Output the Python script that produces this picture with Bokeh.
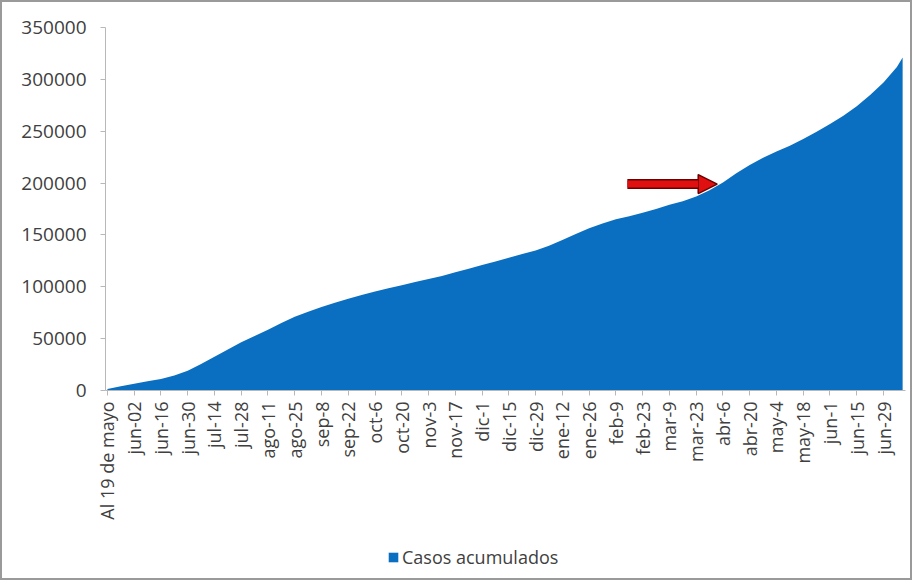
import math
from bokeh.plotting import figure
from bokeh.layouts import column
from bokeh.models import (Range1d, FixedTicker, Legend, LegendItem, Arrow, NormalHead,
                          ColumnDataSource)
from bokeh.embed import file_html
from bokeh.resources import INLINE

# ---- data ----
dias = [0, 7, 14, 21, 28, 35, 42, 49, 56, 63, 70, 77, 84, 91, 98, 105, 112, 119, 126,
        133, 140, 147, 154, 161, 168, 175, 182, 189, 196, 203, 210, 217, 224, 231, 238,
        245, 252, 259, 266, 273, 280, 287, 294, 301, 308, 315, 322, 329, 336, 343, 350,
        357, 364, 371, 378, 385, 392, 399, 406, 413, 416]
casos = [1500, 4000, 6500, 8800, 11000, 14500, 19000, 25500, 32500, 39500, 46500,
         52500, 58500, 65000, 71000, 76000, 80500, 84500, 88500, 92000, 95500, 98500,
         101500, 104500, 107500, 110500, 114000, 117500, 121000, 124500, 128000, 131500,
         135000, 139500, 145000, 151000, 156500, 161000, 165000, 168000, 171500, 175000,
         179000, 182500, 187000, 193000, 200500, 209500, 217500, 224500, 230500, 236000,
         242500, 249500, 257000, 265000, 274000, 285000, 297000, 312000, 321000]
etiquetas = ["Al 19 de mayo", "jun-02", "jun-16", "jun-30", "jul-14", "jul-28", "ago-11",
             "ago-25", "sep-8", "sep-22", "oct-6", "oct-20", "nov-3", "nov-17", "dic-1",
             "dic-15", "dic-29", "ene-12", "ene-26", "feb-9", "feb-23", "mar-9", "mar-23",
             "abr-6", "abr-20", "may-4", "may-18", "jun-1", "jun-15", "jun-29"]
y_ticks = [0, 50000, 100000, 150000, 200000, 250000, 300000, 350000]
serie = "Casos acumulados"

FONT = "Open Sans"
TXT = "#404040"
BLUE = "#0A6FC0"
AXIS = "#b8b8b8"

W = 908
p = figure(width=W, height=530, output_backend="svg", toolbar_location=None,
           x_range=Range1d(-1, 417.5), y_range=Range1d(0, 350000),
           min_border_left=103, min_border_right=5, min_border_top=25,
           min_border_bottom=142)
p.grid.visible = False
p.outline_line_color = None
p.background_fill_color = "white"
p.border_fill_color = "white"

src = ColumnDataSource(dict(x=dias, y=casos))
area = p.varea(x="x", y1=0, y2="y", source=src, fill_color=BLUE)

tick_pos = [14 * i for i in range(len(etiquetas))]
p.xaxis.ticker = FixedTicker(ticks=tick_pos)
p.xaxis.major_label_overrides = {t: l for t, l in zip(tick_pos, etiquetas)}
p.xaxis.major_label_orientation = math.pi / 2
p.xaxis.minor_tick_line_color = None
p.xaxis.axis_line_color = AXIS
p.xaxis.major_tick_line_color = AXIS
p.xaxis.major_tick_out = 5
p.xaxis.major_tick_in = 0
p.xaxis.major_label_standoff = 6
p.xaxis.major_label_text_font = FONT
p.xaxis.major_label_text_font_size = "18px"
p.xaxis.major_label_text_color = TXT

p.yaxis.ticker = FixedTicker(ticks=y_ticks)
p.yaxis.formatter.use_scientific = False
p.yaxis.minor_tick_line_color = None
p.yaxis.axis_line_color = AXIS
p.yaxis.major_tick_line_color = AXIS
p.yaxis.major_tick_out = 5
p.yaxis.major_tick_in = 0
p.yaxis.major_label_standoff = 14
p.yaxis.major_label_text_font = FONT
p.yaxis.major_label_text_font_size = "19px"
p.yaxis.major_label_text_color = TXT

# red arrow pointing to the curve near abr-6
p.add_layout(Arrow(end=None, x_start=272, y_start=199000, x_end=309, y_end=199000,
                   line_color="#6a0000", line_width=10))
p.add_layout(Arrow(end=NormalHead(size=19, fill_color="#e01010", line_color="#6a0000",
                                  line_width=1.5),
                   x_start=272, y_start=199000, x_end=319, y_end=199000,
                   line_color="#e01010", line_width=7))

# legend strip underneath (the legend's swatch renderer lies outside the visible range)
lg = figure(width=W, height=46, output_backend="svg", toolbar_location=None,
            x_range=Range1d(0, 1), y_range=Range1d(0, 1),
            min_border=0)
lg.axis.visible = False
lg.grid.visible = False
lg.outline_line_color = None
lg_r = lg.varea(x=[5, 6], y1=[5, 5], y2=[6, 6], fill_color=BLUE)
legend = Legend(items=[LegendItem(label=serie, renderers=[lg_r])],
                location=(282, 9), orientation="horizontal",
                border_line_color=None, background_fill_alpha=0,
                label_text_font=FONT, label_text_font_size="18px",
                label_text_color=TXT, glyph_width=12, glyph_height=12,
                label_standoff=3, padding=2, margin=0)
lg.add_layout(legend, "center")

layout = column(p, lg, spacing=0, styles={"border": "2px solid #9a9a9a"})
open("out.html", "w").write(file_html(layout, INLINE))
